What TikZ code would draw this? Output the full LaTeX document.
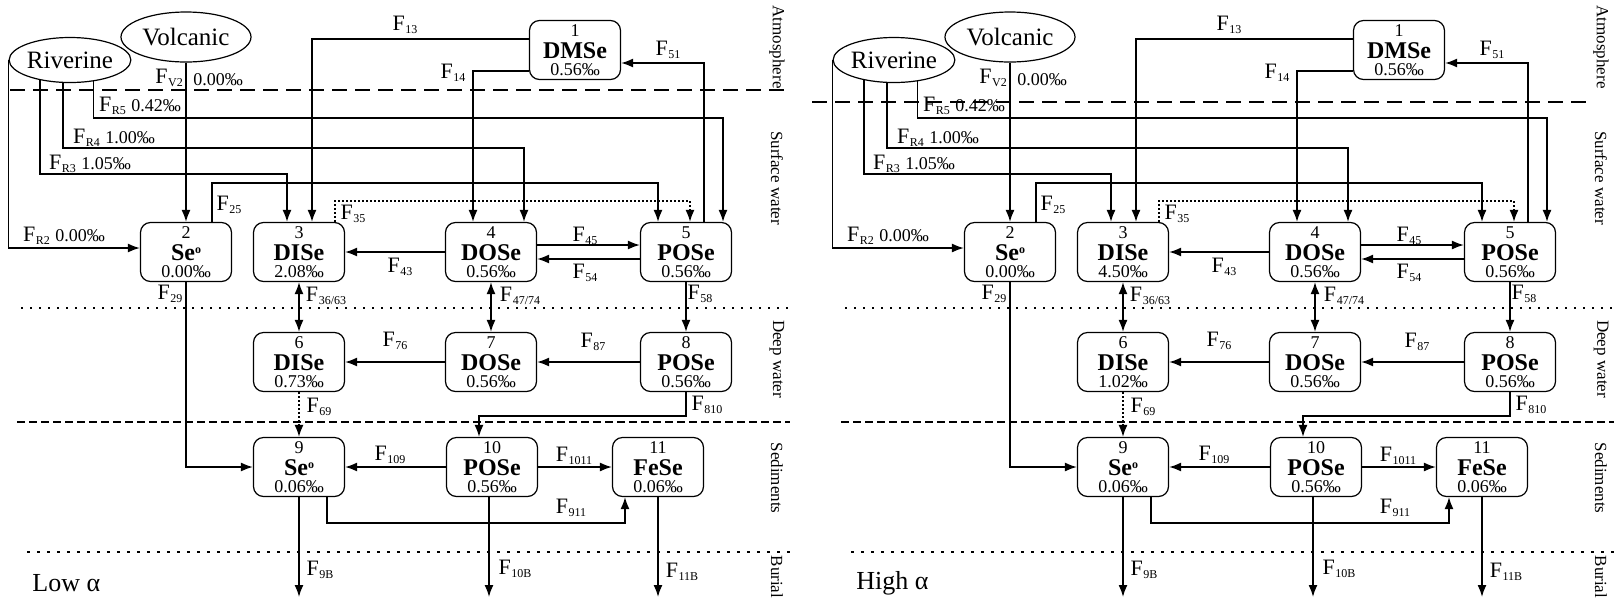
\documentclass[tikz,border=0pt]{standalone}
\usepackage{fontspec}
\setmainfont{Liberation Serif}
\usepackage{tikz}
\usetikzlibrary{shapes.geometric,arrows.meta}

\tikzset{
  pool/.style={draw,line width=0.6pt,rounded corners=5pt,fill=white,minimum width=45.5pt,minimum height=29.5pt,inner sep=0pt,align=center,font=\fontsize{9}{9}\selectfont},
  source/.style={draw,ellipse,line width=0.6pt,fill=white,inner sep=0pt,font=\fontsize{12.5}{12.5}\selectfont},
  flow/.style={line width=0.8pt,-{Latex[length=6pt,width=4.5pt]}},
  biflow/.style={line width=0.8pt,{Latex[length=6pt,width=4.5pt]}-{Latex[length=6pt,width=4.5pt]}},
  dotflow/.style={flow,dash pattern=on 1pt off 1pt},
  flux/.style={inner sep=0pt,font=\fontsize{11}{11}\selectfont},
  zone/.style={rotate=-90,inner sep=0pt,font=\fontsize{8.5}{8.5}\selectfont},
  airline/.style={line width=0.8pt,dash pattern=on 7.5pt off 4pt},
  sedline/.style={line width=0.8pt,dash pattern=on 4pt off 2pt},
  zoneline/.style={line width=0.8pt,dash pattern=on 0.8pt off 3.7pt},
  burline/.style={line width=0.8pt,dash pattern=on 1.5pt off 3.5pt}
}
\newcommand{\fl}[1]{F\kern0.3pt\raisebox{-1.5pt}{\fontsize{6}{6}\selectfont #1}}
\newcommand{\val}[1]{{\fontsize{9}{9}\selectfont #1}}
\newcommand{\seo}{Se\raisebox{3.5pt}{\fontsize{6}{6}\selectfont o}}
\newcommand{\poolbox}[3]{#1\\[2pt]{\fontsize{12}{9}\selectfont\bfseries #2}\\[-0.5pt]#3}

\begin{document}
\begin{tikzpicture}[x=0.5pt,y=-0.5pt]
\useasboundingbox (0,0) rectangle (1619,601);

\foreach \dx/\pre/\lab/\vthree/\vsix/\ya/\xa/\xb in {0/L/Low/2.08/0.73/90/10/790, 824/H/High/4.50/1.02/102/-12/769}{
\begin{scope}[shift={(\dx,0)},name prefix=\pre-]

% zone boundaries
\draw[airline] (\xa,\ya) -- (\xb,\ya);
\draw[zoneline] (21,308) -- (790,308);
\draw[sedline] (17,422) -- (790,422);
\draw[burline] (27,552) -- (790,552);

\node[zone] (atm) at (777,47) {Atmosphere};
\node[zone] (sur) at (777,178) {Surface water};
\node[zone] (dee) at (777,359) {Deep water};
\node[zone] (sed) at (777,478) {Sediments};
\node[zone] (bur) at (777,577) {Burial};

% sources
\node[source,minimum width=57.5pt,minimum height=22.5pt] (riv) at (70,60) {Riverine};
\node[source,minimum width=65pt,minimum height=25pt] (vol) at (186,37) {Volcanic};

% pools
\node[pool] (n1) at (575,50) {\poolbox{1}{DMSe}{0.56‰}};
\node[pool] (n2) at (186,252) {\poolbox{2}{\seo}{0.00‰}};
\node[pool] (n3) at (299,252) {\poolbox{3}{DISe}{\vthree‰}};
\node[pool] (n4) at (491,252) {\poolbox{4}{DOSe}{0.56‰}};
\node[pool] (n5) at (686,252) {\poolbox{5}{POSe}{0.56‰}};
\node[pool] (n6) at (299,362) {\poolbox{6}{DISe}{\vsix‰}};
\node[pool] (n7) at (491,362) {\poolbox{7}{DOSe}{0.56‰}};
\node[pool] (n8) at (686,362) {\poolbox{8}{POSe}{0.56‰}};
\node[pool] (n9) at (299,467) {\poolbox{9}{\seo}{0.06‰}};
\node[pool] (n10) at (492,467) {\poolbox{10}{POSe}{0.56‰}};
\node[pool] (n11) at (658,467) {\poolbox{11}{FeSe}{0.06‰}};

% inputs
\draw[flow] (riv.west) |- ([yshift=2pt]n2.west);
\draw[flow] (riv.214) -- (riv.214 |- 0,174) -| ([xshift=-6pt]n3.north);
\draw[flow] (riv.253) -- (riv.253 |- 0,148) -| ([xshift=16.5pt]n4.north);
\draw[flow] (riv.318) -- (riv.318 |- 0,118) -| ([xshift=18.5pt]n5.north);
\draw[flow] (vol.south) -- (n2.north);
\node[flux] (lR2) at (64,236) {\fl{R2}\ \val{0.00‰}};
\node[flux] (lR3) at (90,164) {\fl{R3}\ \val{1.05‰}};
\node[flux] (lR4) at (114,138) {\fl{R4}\ \val{1.00‰}};
\node[flux] (lR5) at (140,106) {\fl{R5} \val{0.42‰}};
\node[flux] (lV2) at (169,78) {\fl{V2}};
\node[flux] (vV2) at (218,80) {\val{0.00‰}};

% atmosphere exchange
\draw[flow] (n1.west |- 0,39) -| ([xshift=6.5pt]n3.north);
\draw[flow] (n1.west |- 0,71) -| ([xshift=-9pt]n4.north);
\draw[flow] ([xshift=9pt]n5.north) |- (n1.east |- 0,63);
\node[flux] (l13) at (405,25) {\fl{13}};
\node[flux] (l14) at (453,73) {\fl{14}};
\node[flux] (l51) at (668,50) {\fl{51}};

% surface water
\draw[flow] ([xshift=13pt]n2.north) -- ([xshift=13pt]n2.north |- 0,183) -| ([xshift=-14pt]n5.north);
\draw[dotflow] ([xshift=18pt]n3.north) -- ([xshift=18pt]n3.north |- 0,201) -| ([xshift=2pt]n5.north);
\draw[flow] (n4.west) -- (n3.east);
\draw[flow] ([yshift=3.5pt]n4.east) -- ([yshift=3.5pt]n5.west);
\draw[flow] ([yshift=-3.5pt]n5.west) -- ([yshift=-3.5pt]n4.east);
\node[flux] (l25) at (229,205) {\fl{25}};
\node[flux] (l35) at (353,214) {\fl{35}};
\node[flux] (l43) at (400,267) {\fl{43}};
\node[flux] (l45) at (585,236) {\fl{45}};
\node[flux] (l54) at (585,273) {\fl{54}};

% deep water
\draw[biflow] (n3.south) -- (n6.north);
\draw[biflow] (n4.south) -- (n7.north);
\draw[flow] (n5.south) -- (n8.north);
\draw[flow] (n7.west) -- (n6.east);
\draw[flow] (n8.west) -- (n7.east);
\node[flux] (l36) at (326,296) {\fl{36/63}};
\node[flux] (l47) at (520,296) {\fl{47/74}};
\node[flux] (l58) at (700,294) {\fl{58}};
\node[flux] (l29) at (170,294) {\fl{29}};
\node[flux] (l76) at (395,341) {\fl{76}};
\node[flux] (l87) at (593,342) {\fl{87}};

% sediments
\draw[flow] (n2.south) |- (n9.west);
\draw[dotflow] (n6.south) -- (n9.north);
\draw[flow] (n8.south) |- ([xshift=-6.5pt]n10.north |- 0,416) -- ([xshift=-6.5pt]n10.north);
\draw[flow] (n10.west) -- (n9.east);
\draw[flow] (n10.east) -- (n11.west);
\draw[flow] ([xshift=14pt]n9.south) |- ([xshift=-16.5pt]n11.south |- 0,523) -- ([xshift=-16.5pt]n11.south);
\node[flux] (l69) at (319,407) {\fl{69}};
\node[flux] (l810) at (707,405) {\fl{810}};
\node[flux] (l109) at (390,455) {\fl{109}};
\node[flux] (l1011) at (574,456) {\fl{1011}};
\node[flux] (l911) at (571,508) {\fl{911}};

% burial
\draw[flow] (n9.south) -- (n9.south |- 0,597);
\draw[flow] ([xshift=-1.5pt]n10.south) -- ([xshift=-1.5pt]n10.south |- 0,597);
\draw[flow] (n11.south) -- (n11.south |- 0,597);
\node[flux] (l9B) at (320,570) {\fl{9B}};
\node[flux] (l10B) at (515,569) {\fl{10B}};
\node[flux] (l11B) at (682,572) {\fl{11B}};

\node[anchor=west,inner sep=0pt,font=\fontsize{13}{13}\selectfont] (alpha) at (32,583) {\lab\ α};

\end{scope}
}
\end{tikzpicture}
\end{document}
